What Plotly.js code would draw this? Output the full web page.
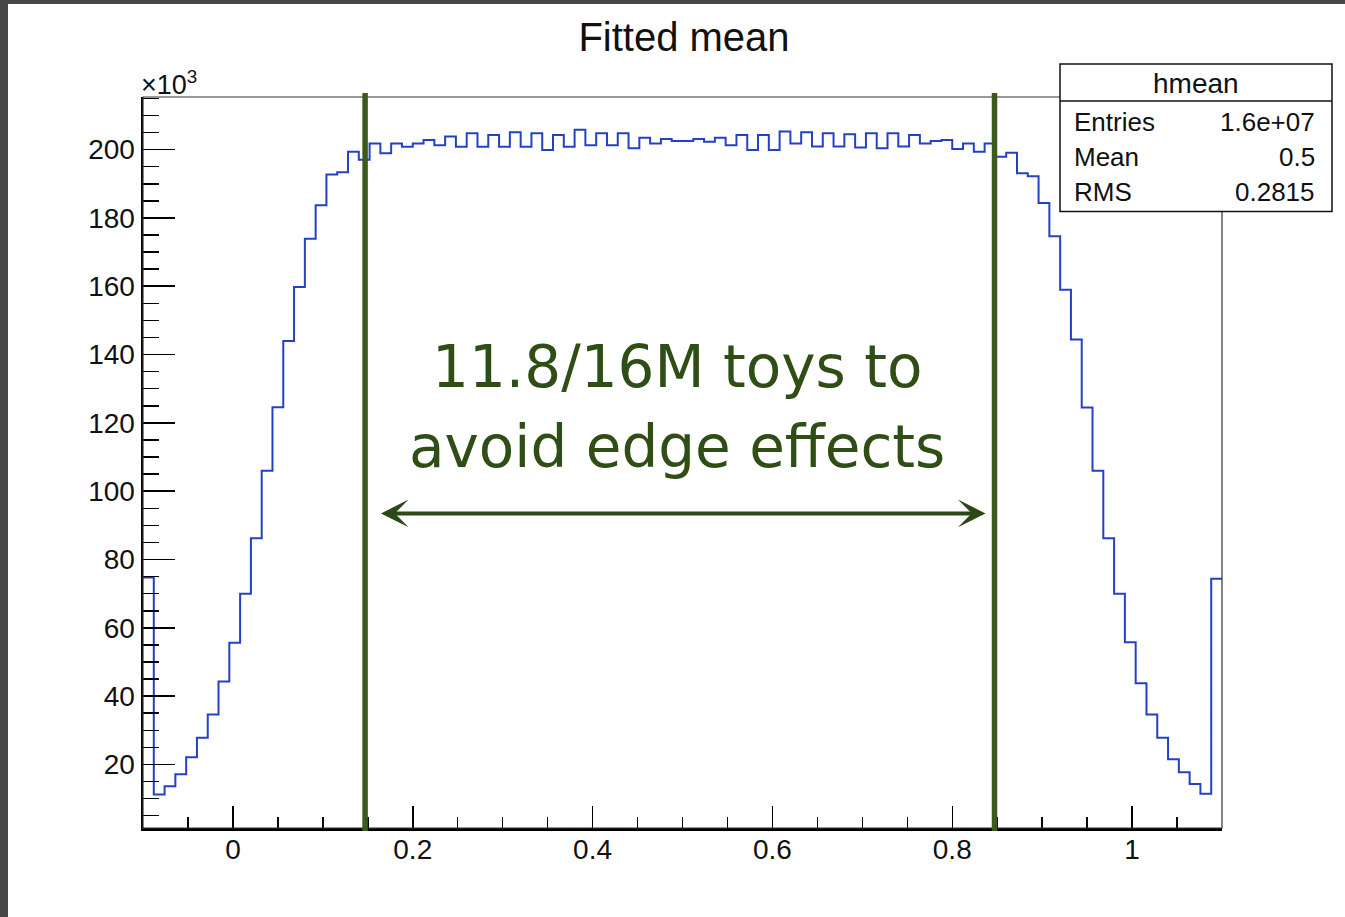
<!DOCTYPE html>
<html>
<head>
<meta charset="utf-8">
<script src="https://cdn.plot.ly/plotly-3.0.1.min.js"></script>
<style>
  html, body { margin: 0; padding: 0; background: #ffffff; }
  #chart { width: 1345px; height: 917px; }
</style>
</head>
<body>
<div id="chart"></div>
<script>
// ---- Histogram definition (hmean) ----
const histName = "hmean";
const xMin = -0.1;
const xMax = 1.1;
const nBins = 100;

// Bin contents in units of 10^3 entries (bin 0 .. bin 99)
const binContentK = [
  74.7, 11.2, 13.6, 17.1, 22.1, 27.8, 34.6, 44.3, 55.6, 70.0,
  86.2, 106.0, 124.6, 144.0, 159.8, 173.9, 183.7, 192.7, 193.4, 199.4,
  197.0, 201.8, 198.9, 201.8, 200.8, 201.8, 202.8, 201.3, 203.8, 200.8,
  204.8, 200.8, 204.3, 200.8, 205.1, 200.8, 204.8, 199.9, 204.3, 200.8,
  205.8, 201.3, 204.8, 201.3, 204.8, 200.4, 203.5, 201.8, 203.1, 202.5,
  202.5, 203.1, 202.3, 203.5, 201.3, 204.3, 199.9, 204.3, 199.9, 205.3,
  201.8, 205.1, 200.9, 204.8, 200.9, 204.5, 200.6, 204.8, 200.4, 204.8,
  200.9, 204.3, 201.8, 202.5, 202.8, 200.2, 201.8, 199.4, 201.8, 197.9,
  199.1, 193.1, 192.2, 184.4, 174.6, 159.0, 144.4, 124.5, 106.0, 86.2,
  70.0, 55.8, 43.8, 34.6, 27.8, 21.5, 17.7, 14.3, 11.4, 74.4
];

// Stats box
const statLabels = ["Entries", "Mean", "RMS"];
const statValues = ["1.6e+07", "0.5", "0.2815"];

// Axis ticks
const yTickVals = [20, 40, 60, 80, 100, 120, 140, 160, 180, 200];
const yTickText = ["20", "40", "60", "80", "100", "120", "140", "160", "180", "200"];
const xTickVals = [0, 0.2, 0.4, 0.6, 0.8, 1];
const xTickText = ["0", "0.2", "0.4", "0.6", "0.8", "1"];
const yRangeK = [1.4, 215.4];

// Annotation overlay (cut window)
const cutLow = 0.147;
const cutHigh = 0.847;
const arrowFrom = 0.163;
const arrowTo = 0.837;
const arrowLevelK = 93.5;
const noteLines = ["11.8/16M toys to", "avoid edge effects"];
const noteX = 0.494;
const noteYK = [136.3, 112.8];

// ---- Build step line from bins ----
const binWidth = (xMax - xMin) / nBins;
const stepX = [];
const stepY = [];
for (let i = 0; i < nBins; i++) {
  stepX.push(xMin + i * binWidth);
  stepY.push(binContentK[i]);
}
stepX.push(xMax);
stepY.push(binContentK[nBins - 1]);

// ---- Layout geometry (pixels) ----
const W = 1345, H = 917;
const M = { l: 143, r: 123, t: 97, b: 89 };
const PW = W - M.l - M.r, PH = H - M.t - M.b;
const px = (x) => (x - M.l) / PW;          // pixel x -> paper x
const py = (y) => (H - M.b - y) / PH;      // pixel y -> paper y

const FONT = '"Liberation Sans", Arial, Helvetica, sans-serif';
const GREEN = '#3a5a1e';
const TEXTGREEN = '#2f4e16';

const trace = {
  type: 'scatter',
  mode: 'lines',
  x: stepX,
  y: stepY,
  line: { shape: 'hv', color: '#2440c4', width: 2 },
  hoverinfo: 'skip',
  showlegend: false
};

const shapes = [
  // slide background strips
  { type: 'rect', xref: 'paper', yref: 'paper', x0: px(0), x1: px(8), y0: py(H), y1: py(0), fillcolor: '#474747', line: { width: 0 }, layer: 'below' },
  { type: 'rect', xref: 'paper', yref: 'paper', x0: px(0), x1: px(W), y0: py(4), y1: py(0), fillcolor: '#474747', line: { width: 0 }, layer: 'below' },
  // frame (top / right)
  { type: 'rect', xref: 'paper', yref: 'paper', x0: 0, x1: 1, y0: 0, y1: 1, line: { color: '#333333', width: 1.2 }, layer: 'above' },
  // cut lines
  { type: 'line', xref: 'x', yref: 'paper', x0: cutLow, x1: cutLow, y0: py(831), y1: py(93), line: { color: GREEN, width: 5.5 } },
  { type: 'line', xref: 'x', yref: 'paper', x0: cutHigh, x1: cutHigh, y0: py(831), y1: py(93), line: { color: GREEN, width: 5.5 } },
  // stats box
  { type: 'rect', xref: 'paper', yref: 'paper', x0: px(1060), x1: px(1332), y0: py(211.5), y1: py(64), fillcolor: '#ffffff', line: { color: '#111111', width: 1.5 }, layer: 'above' },
  { type: 'line', xref: 'paper', yref: 'paper', x0: px(1060), x1: px(1332), y0: py(101), y1: py(101), line: { color: '#111111', width: 1.5 }, layer: 'above' }
];

const annotations = [
  // x10^3
  { xref: 'paper', yref: 'paper', x: px(139), y: py(83), xanchor: 'left', yanchor: 'middle', showarrow: false,
    text: '×10<sup>3</sup>', font: { family: FONT, size: 27, color: '#111' } },
  // stats box header
  { xref: 'paper', yref: 'paper', x: px(1196), y: py(83), xanchor: 'center', yanchor: 'middle', showarrow: false,
    text: histName, font: { family: FONT, size: 28, color: '#111' } },
  // double arrow
  { xref: 'x', yref: 'y', axref: 'x', ayref: 'y', x: arrowTo, y: arrowLevelK, ax: arrowFrom, ay: arrowLevelK,
    showarrow: true, arrowside: 'end+start', arrowhead: 3, arrowsize: 1.15, arrowwidth: 4, arrowcolor: '#2c4817', text: '' }
];
statLabels.forEach((lab, i) => {
  const yc = [121.7, 156.7, 191.7][i];
  annotations.push({ xref: 'paper', yref: 'paper', x: px(1072), y: py(yc), xanchor: 'left', yanchor: 'middle', showarrow: false,
    text: lab, font: { family: FONT, size: 26, color: '#111' } });
  annotations.push({ xref: 'paper', yref: 'paper', x: px(1317), y: py(yc), xanchor: 'right', yanchor: 'middle', showarrow: false,
    text: statValues[i], font: { family: FONT, size: 26, color: '#111' } });
});
noteLines.forEach((t, i) => {
  annotations.push({ xref: 'x', yref: 'y', x: noteX, y: noteYK[i], xanchor: 'center', yanchor: 'middle', showarrow: false,
    text: t, font: { family: '"DejaVu Sans", sans-serif', size: 58, color: TEXTGREEN } });
});

const layout = {
  width: W, height: H,
  margin: M,
  paper_bgcolor: '#ffffff',
  plot_bgcolor: '#ffffff',
  showlegend: false,
  title: {
    text: 'Fitted mean',
    x: px(684), xref: 'paper', xanchor: 'center',
    y: 1 - 37 / H, yref: 'container', yanchor: 'middle',
    font: { family: FONT, size: 40, color: '#111' }
  },
  xaxis: {
    range: [xMin, xMax],
    showgrid: false, zeroline: false,
    showline: true, linecolor: '#000', linewidth: 3,
    ticks: 'inside', ticklen: 22, tickwidth: 1.5, tickcolor: '#000',
    tickvals: xTickVals, ticktext: xTickText,
    minor: { ticks: 'inside', ticklen: 11, tickwidth: 1.5, tickcolor: '#000', dtick: 0.05, tick0: 0, showgrid: false },
    tickfont: { family: FONT, size: 28, color: '#111' },
    ticklabelstandoff: -6
  },
  yaxis: {
    range: yRangeK,
    showgrid: false, zeroline: false,
    showline: true, linecolor: '#000', linewidth: 2.5,
    ticks: 'inside', ticklen: 32, tickwidth: 1.5, tickcolor: '#000',
    tickvals: yTickVals, ticktext: yTickText,
    minor: { ticks: 'inside', ticklen: 16, tickwidth: 1.5, tickcolor: '#000', dtick: 5, tick0: 0, showgrid: false },
    tickfont: { family: FONT, size: 28, color: '#111' },
    ticklabelstandoff: 0
  },
  shapes: shapes,
  annotations: annotations
};

Plotly.newPlot('chart', [trace], layout, { staticPlot: true, displayModeBar: false });
</script>
</body>
</html>
